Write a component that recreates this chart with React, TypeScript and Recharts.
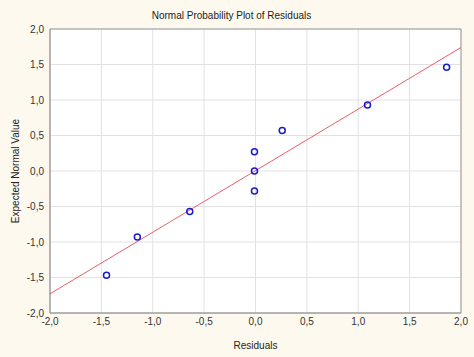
import {
  ScatterChart,
  Scatter,
  XAxis,
  YAxis,
  CartesianGrid,
  ReferenceLine,
} from 'recharts';

// residuals (x) and expected normal values (y)
const residuals = [-1.45, -1.15, -0.64, -0.01, -0.01, -0.01, 0.26, 1.09, 1.86];
const expected = [-1.47, -0.93, -0.57, -0.28, 0.0, 0.27, 0.57, 0.93, 1.46];

// fitted line end points
const fitX = [-2, 2];
const fitY = [-1.73, 1.74];

const ticks = [-2, -1.5, -1, -0.5, 0, 0.5, 1, 1.5, 2];

const punkte = residuals.map((r, i) => ({ x: r, y: expected[i] }));

const fmt = (v: number) => v.toFixed(1).replace('.', ',');
const font = '"Liberation Sans", Arial, sans-serif';

export default function App() {
  return (
    <div
      style={{
        position: 'absolute',
        left: 0,
        top: 0,
        width: 474,
        height: 357,
        background: '#fdf9ee',
        fontFamily: font,
      }}
    >
      <div
        style={{
          position: 'absolute',
          top: 10,
          left: 0,
          width: 463,
          textAlign: 'center',
          fontSize: 10,
          color: '#222',
        }}
      >
        Normal Probability Plot of Residuals
      </div>
      <ScatterChart
        width={474}
        height={357}
        margin={{ top: 29, right: 13, bottom: 0, left: 0 }}
      >
        <CartesianGrid stroke="#e2e2e2" fill="#ffffff" />
        <XAxis
          type="number"
          dataKey="x"
          domain={[-2, 2]}
          ticks={ticks}
          tickFormatter={fmt}
          height={44}
          tickLine={false}
          tickSize={0}
          tickMargin={5}
          stroke="#7a7a7a"
          tick={{ fill: '#333', fontSize: 10, fontFamily: font }}
          label={{ value: 'Residuals', position: 'insideBottom', offset: 8, fill: '#222', fontSize: 10, fontFamily: font }}
        />
        <YAxis
          type="number"
          dataKey="y"
          domain={[-2, 2]}
          ticks={ticks}
          tickFormatter={fmt}
          width={50}
          tickLine={false}
          tickSize={0}
          tickMargin={6}
          stroke="#7a7a7a"
          tick={{ fill: '#333', fontSize: 10, fontFamily: font }}
          label={{ value: 'Expected Normal Value', angle: -90, position: 'insideLeft', offset: 15, fill: '#222', fontSize: 10, fontFamily: font, style: { textAnchor: 'middle' } }}
        />
        {/* rahmen oben und rechts */}
        <ReferenceLine y={2} stroke="#9a9a9a" ifOverflow="visible" />
        <ReferenceLine x={2} stroke="#9a9a9a" ifOverflow="visible" />
        <ReferenceLine
          segment={[
            { x: fitX[0], y: fitY[0] },
            { x: fitX[1], y: fitY[1] },
          ]}
          stroke="#e8606a"
          strokeWidth={1}
          ifOverflow="visible"
        />
        <Scatter
          data={punkte}
          isAnimationActive={false}
          shape={(p: any) => (
            <circle cx={p.cx} cy={p.cy} r={3} fill="none" stroke="#1a1acc" strokeWidth={1.5} />
          )}
        />
      </ScatterChart>
    </div>
  );
}
